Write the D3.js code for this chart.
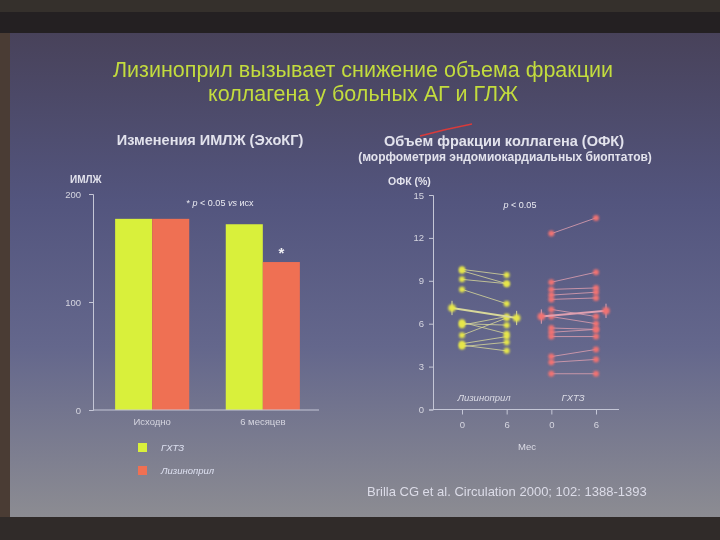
<!DOCTYPE html>
<html>
<head>
<meta charset="utf-8">
<script src="https://cdn.jsdelivr.net/npm/d3@7"></script>
<style>
  html, body { margin: 0; padding: 0; background: #221e1e; }
  svg { display: block; font-family: "Liberation Sans", Arial, sans-serif; }
</style>
</head>
<body>
<div id="canvas"></div>
<script>
(function () {
  'use strict';

  // --- data ---
  const groups = ['Исходно', '6 месяцев'];
  const series = ['ГХТЗ', 'Лизиноприл'];
  const imlzhGhtz = [177, 172];
  const imlzhLiz = [177, 137];
  const imlzhTicks = [0, 100, 200];

  const ofkCols = ['Л0', 'Л6', 'Г0', 'Г6'];
  const ofkTickLabels = ['0', '6', '0', '6'];
  const ofkTicks = [0, 3, 6, 9, 12, 15];
  // paired values, month 0 -> month 6
  const lizStart = [9.8, 9.7, 9.1, 8.4, 6.1, 6.0, 5.9, 5.2, 4.6, 4.4, 4.5];
  const lizEnd   = [9.4, 8.8, 8.8, 7.4, 5.3, 5.9, 6.5, 6.4, 5.1, 4.7, 4.1];
  const ghtzStart = [12.3, 8.9, 8.4, 8.0, 7.7, 7.0, 6.5, 5.7, 5.4, 5.1, 3.7, 3.3, 2.5];
  const ghtzEnd   = [13.4, 9.6, 8.5, 8.2, 7.8, 6.5, 6.0, 5.6, 5.6, 5.1, 4.2, 3.5, 2.5];
  const lizMean = [7.1, 6.4];
  const ghtzMean = [6.5, 6.9];
  const meanErr = [0.5, 0.5];

  const W = 720, H = 540;
  const yellow = '#d9f03a';
  const red = '#ef6f52';
  const textCol = '#e2e2ec';

  const svg = d3.select('#canvas').append('svg')
    .attr('width', W).attr('height', H);

  // background of the projected slide
  const defs = svg.append('defs');
  const grad = defs.append('linearGradient').attr('id', 'bg')
    .attr('x1', 0).attr('y1', 0).attr('x2', 0).attr('y2', 1);
  grad.append('stop').attr('offset', '0%').attr('stop-color', '#48425a');
  grad.append('stop').attr('offset', '35%').attr('stop-color', '#53557e');
  grad.append('stop').attr('offset', '65%').attr('stop-color', '#64678c');
  grad.append('stop').attr('offset', '100%').attr('stop-color', '#8c8c92');
  const glow = defs.append('filter').attr('id', 'glow')
    .attr('x', '-50%').attr('y', '-50%').attr('width', '200%').attr('height', '200%');
  glow.append('feGaussianBlur').attr('stdDeviation', 0.8);
  const soft = defs.append('filter').attr('id', 'soft')
    .attr('x', '-5%').attr('y', '-5%').attr('width', '110%').attr('height', '110%');
  soft.append('feGaussianBlur').attr('stdDeviation', 0.35);

  svg.append('rect').attr('width', W).attr('height', H).attr('fill', '#242022');
  svg.append('rect').attr('x', 0).attr('y', 0).attr('width', W).attr('height', 12).attr('fill', '#35302c');
  svg.append('rect').attr('x', 0).attr('y', 33).attr('width', 10).attr('height', 484).attr('fill', '#4a3c34');
  svg.append('rect').attr('x', 10).attr('y', 33).attr('width', W - 10).attr('height', 484).attr('fill', 'url(#bg)');
  svg.append('rect').attr('x', 0).attr('y', 517).attr('width', W).attr('height', 23).attr('fill', '#302b29');

  const slide = svg.append('g').attr('filter', 'url(#soft)');

  // title
  slide.append('text').attr('x', 363).attr('y', 77).attr('text-anchor', 'middle')
    .attr('fill', '#c3dc3e').attr('font-size', 21.5)
    .text('Лизиноприл вызывает снижение объема фракции');
  slide.append('text').attr('x', 363).attr('y', 101).attr('text-anchor', 'middle')
    .attr('fill', '#c3dc3e').attr('font-size', 21.5)
    .text('коллагена у больных АГ и ГЛЖ');

  // ---------- left chart: ИМЛЖ bars ----------
  const y1 = d3.scaleLinear().domain([0, 200]).range([410, 194]);
  const x0 = d3.scaleBand().domain(groups).range([93, 322])
    .paddingInner(0.33).paddingOuter(0.2);
  const x1 = d3.scaleBand().domain(series).range([0, x0.bandwidth()]);
  const barData = groups.map((g, i) => ({ g: g, vals: [imlzhGhtz[i], imlzhLiz[i]] }));

  slide.append('text').attr('x', 210).attr('y', 145).attr('text-anchor', 'middle')
    .attr('fill', textCol).attr('font-size', 14.5).attr('font-weight', 'bold')
    .text('Изменения ИМЛЖ (ЭхоКГ)');
  slide.append('text').attr('x', 70).attr('y', 183)
    .attr('fill', textCol).attr('font-size', 10).attr('font-weight', 'bold')
    .text('ИМЛЖ');

  const gBars = slide.append('g');
  gBars.selectAll('g').data(barData).enter().append('g')
    .attr('transform', d => 'translate(' + x0(d.g) + ',0)')
    .selectAll('rect').data(d => d.vals.map((v, j) => ({ s: series[j], v: v })))
    .enter().append('rect')
    .attr('x', d => x1(d.s))
    .attr('y', d => y1(d.v))
    .attr('width', x1.bandwidth())
    .attr('height', d => y1(0) - y1(d.v))
    .attr('fill', d => d.s === 'ГХТЗ' ? yellow : red);

  const yAxis1 = slide.append('g').attr('transform', 'translate(93,0)')
    .call(d3.axisLeft(y1).tickValues(imlzhTicks).tickSize(4).tickPadding(8));
  yAxis1.selectAll('text').attr('fill', '#d6d6e0').attr('font-size', 9.5);
  const xAxis1 = slide.append('g').attr('transform', 'translate(0,410)')
    .call(d3.axisBottom(x0).tickSize(0).tickPadding(8));
  xAxis1.selectAll('text').attr('fill', '#d6d6e0').attr('font-size', 9.5);
  xAxis1.select('.domain').attr('d', 'M93,0H319');
  [yAxis1, xAxis1].forEach(a => {
    a.selectAll('.domain, line').attr('stroke', '#c4c6d6');
    a.attr('font-family', null);
  });

  slide.append('text').attr('x', x0('6 месяцев') + x1('Лизиноприл') + x1.bandwidth() / 2)
    .attr('y', y1(imlzhLiz[1]) - 4).attr('text-anchor', 'middle')
    .attr('fill', '#f0f0f4').attr('font-size', 15).attr('font-weight', 'bold').text('*');
  slide.append('text').attr('x', 220).attr('y', 206).attr('text-anchor', 'middle')
    .attr('fill', '#ececf2').attr('font-size', 9)
    .html('* <tspan font-style="italic">p</tspan> &lt; 0.05 <tspan font-style="italic">vs</tspan> исх');

  // legend
  const legend = slide.append('g').attr('transform', 'translate(138,443)');
  series.forEach((s, i) => {
    legend.append('rect').attr('x', 0).attr('y', i * 23).attr('width', 9).attr('height', 9)
      .attr('fill', i === 0 ? yellow : red);
    legend.append('text').attr('x', 23).attr('y', i * 23 + 8)
      .attr('fill', '#dde0f0').attr('font-size', 9.5).attr('font-style', 'italic').text(s);
  });

  // ---------- right chart: ОФК paired dots ----------
  const y2 = d3.scaleLinear().domain([0, 15]).range([409.5, 195]);
  const x2 = d3.scalePoint().domain(ofkCols).range([462, 596]);

  slide.append('text').attr('x', 504).attr('y', 146).attr('text-anchor', 'middle')
    .attr('fill', textCol).attr('font-size', 14.5).attr('font-weight', 'bold')
    .text('Объем фракции коллагена (ОФК)');
  slide.append('path').attr('d', 'M420,136 Q446,129 472,124')
    .attr('fill', 'none').attr('stroke', '#d83a3a').attr('stroke-width', 1.6);
  slide.append('text').attr('x', 505).attr('y', 161).attr('text-anchor', 'middle')
    .attr('fill', textCol).attr('font-size', 12).attr('font-weight', 'bold')
    .text('(морфометрия эндомиокардиальных биоптатов)');
  slide.append('text').attr('x', 388).attr('y', 185)
    .attr('fill', textCol).attr('font-size', 10.5).attr('font-weight', 'bold')
    .text('ОФК (%)');

  const yAxis2 = slide.append('g').attr('transform', 'translate(433,0)')
    .call(d3.axisLeft(y2).tickValues(ofkTicks).tickSize(4).tickPadding(5));
  const xAxis2 = slide.append('g').attr('transform', 'translate(0,409.5)')
    .call(d3.axisBottom(x2).tickSize(5).tickPadding(7).tickFormat((d, i) => ofkTickLabels[i]));
  xAxis2.select('.domain').attr('d', 'M433,0H619');
  [yAxis2, xAxis2].forEach(a => {
    a.selectAll('.domain, line').attr('stroke', '#c4c6d6');
    a.selectAll('text').attr('fill', '#d6d6e0').attr('font-size', 9.5);
    a.attr('font-family', null);
  });

  slide.append('text').attr('x', 527).attr('y', 450).attr('text-anchor', 'middle')
    .attr('fill', '#dcdce6').attr('font-size', 9.5).text('Мес');
  slide.append('text').attr('x', 484).attr('y', 401).attr('text-anchor', 'middle')
    .attr('fill', '#dcdce6').attr('font-size', 9.5).attr('font-style', 'italic').text('Лизиноприл');
  slide.append('text').attr('x', 573).attr('y', 401).attr('text-anchor', 'middle')
    .attr('fill', '#dcdce6').attr('font-size', 9.5).attr('font-style', 'italic').text('ГХТЗ');
  slide.append('text').attr('x', 520).attr('y', 208).attr('text-anchor', 'middle')
    .attr('fill', '#ececf2').attr('font-size', 9)
    .html('<tspan font-style="italic">p</tspan> &lt; 0.05');

  function drawGroup(starts, ends, mean, c0, c1, dotCol, lineCol) {
    const g = slide.append('g');
    const pairs = starts.map((s, i) => [s, ends[i]]);
    g.selectAll('line.p').data(pairs).enter().append('line')
      .attr('x1', x2(c0)).attr('x2', x2(c1))
      .attr('y1', d => y2(d[0])).attr('y2', d => y2(d[1]))
      .attr('stroke', lineCol).attr('stroke-width', 1).attr('opacity', 0.8);
    const dots = [];
    pairs.forEach(d => { dots.push([c0, d[0]]); dots.push([c1, d[1]]); });
    g.selectAll('circle.p').data(dots).enter().append('circle')
      .attr('cx', d => x2(d[0])).attr('cy', d => y2(d[1])).attr('r', 3)
      .attr('fill', dotCol).attr('filter', 'url(#glow)');
    // mean with error bars, set slightly outside the columns
    const mx = [x2(c0) - 10, x2(c1) + 10];
    g.append('line').attr('x1', mx[0]).attr('x2', mx[1])
      .attr('y1', y2(mean[0])).attr('y2', y2(mean[1]))
      .attr('stroke', lineCol).attr('stroke-width', 2);
    mean.forEach((m, i) => {
      g.append('line').attr('x1', mx[i]).attr('x2', mx[i])
        .attr('y1', y2(m - meanErr[i])).attr('y2', y2(m + meanErr[i]))
        .attr('stroke', lineCol).attr('stroke-width', 1);
      g.append('circle').attr('cx', mx[i]).attr('cy', y2(m)).attr('r', 3.8)
        .attr('fill', dotCol).attr('filter', 'url(#glow)');
    });
  }
  drawGroup(lizStart, lizEnd, lizMean, 'Л0', 'Л6', '#e6e64a', '#d8d89a');
  drawGroup(ghtzStart, ghtzEnd, ghtzMean, 'Г0', 'Г6', '#f07272', '#e0a0b0');

  // citation
  slide.append('text').attr('x', 367).attr('y', 496)
    .attr('fill', '#dcdce8').attr('font-size', 13)
    .text('Brilla CG et al. Circulation 2000;  102: 1388-1393');
}());
</script>
</body>
</html>
